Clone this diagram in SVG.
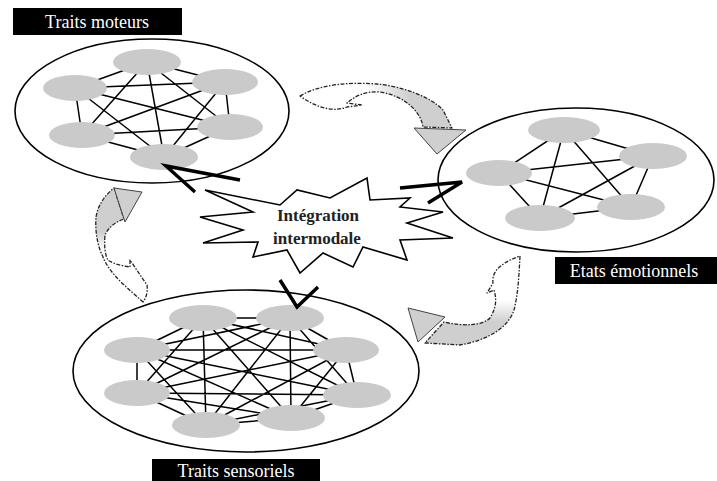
<svg xmlns="http://www.w3.org/2000/svg" width="717" height="481" viewBox="0 0 717 481">
<style>
.big{fill:#fff;stroke:#000;stroke-width:1.6}
.nd{fill:#cacaca;stroke:none}
.ed{fill:none;stroke:#000;stroke-width:1.5}
.lab{fill:#000}
.labt{fill:#fff;font-family:"Liberation Serif","DejaVu Serif",serif;font-size:18px;text-anchor:middle}
.burst{fill:#fff;stroke:#000;stroke-width:1.6;stroke-linejoin:miter}
.bt{fill:#222;font-family:"Liberation Serif","DejaVu Serif",serif;font-size:17px;font-weight:bold;text-anchor:middle}
.vee{fill:none;stroke:#000;stroke-width:3.5;stroke-linejoin:miter}
.curl{stroke:#222;stroke-width:1.3;stroke-dasharray:4 1.5 1.5 1.5;stroke-linejoin:round}
.head{fill:#cfcfcf;stroke:#444;stroke-width:1}
</style>
<defs>
<linearGradient id="g1" gradientUnits="userSpaceOnUse" x1="365" y1="0" x2="410" y2="0"><stop offset="0" stop-color="#fff"/><stop offset="1" stop-color="#cfcfcf"/></linearGradient>
<linearGradient id="g2" gradientUnits="userSpaceOnUse" x1="0" y1="300" x2="0" y2="322"><stop offset="0" stop-color="#fff"/><stop offset="1" stop-color="#cfcfcf"/></linearGradient>
<linearGradient id="g3" gradientUnits="userSpaceOnUse" x1="0" y1="250" x2="0" y2="232"><stop offset="0" stop-color="#fff"/><stop offset="1" stop-color="#cfcfcf"/></linearGradient>
</defs>
<rect width="717" height="481" fill="#fff"/>

<g id="traits-moteurs">
<ellipse class="big" cx="152" cy="111" rx="137" ry="72"/>
<path class="ed" d="M147,62L75,88 M147,62L225,82 M147,62L82,135 M147,62L230,127 M147,62L164,157 M75,88L225,82 M75,88L82,135 M75,88L230,127 M75,88L164,157 M225,82L82,135 M225,82L230,127 M225,82L164,157 M82,135L230,127 M82,135L164,157 M230,127L164,157"/>
<ellipse class="nd" cx="147" cy="62" rx="34" ry="13"/>
<ellipse class="nd" cx="75" cy="88" rx="32" ry="13"/>
<ellipse class="nd" cx="225" cy="82" rx="33" ry="13"/>
<ellipse class="nd" cx="82" cy="135" rx="33" ry="13"/>
<ellipse class="nd" cx="230" cy="127" rx="33" ry="13"/>
<ellipse class="nd" cx="164" cy="157" rx="34" ry="13"/>
<rect class="lab" x="13" y="8" width="169" height="27"/>
<text class="labt" x="97" y="28">Traits moteurs</text>
</g>

<g id="etats-emotionnels">
<ellipse class="big" cx="576" cy="180" rx="138" ry="72"/>
<path class="ed" d="M564,130L653,156 M564,130L499,173 M564,130L540,218 M564,130L631,207 M653,156L499,173 M653,156L540,218 M653,156L631,207 M499,173L540,218 M499,173L631,207 M540,218L631,207"/>
<ellipse class="nd" cx="564" cy="130" rx="36" ry="13"/>
<ellipse class="nd" cx="653" cy="156" rx="34" ry="13"/>
<ellipse class="nd" cx="499" cy="173" rx="33" ry="13"/>
<ellipse class="nd" cx="540" cy="218" rx="35" ry="13"/>
<ellipse class="nd" cx="631" cy="207" rx="34" ry="13"/>
<rect class="lab" x="555" y="257" width="162" height="27"/>
<text class="labt" x="634" y="277" font-size="19">Etats émotionnels</text>
</g>

<g id="traits-sensoriels">
<ellipse class="big" cx="246" cy="371" rx="173" ry="81"/>
<path class="ed" d="M203,318L290,318 M203,318L137,350 M203,318L346,350 M203,318L137,393 M203,318L357,395 M203,318L206,425 M203,318L291,418 M290,318L137,350 M290,318L346,350 M290,318L137,393 M290,318L357,395 M290,318L206,425 M290,318L291,418 M137,350L346,350 M137,350L137,393 M137,350L357,395 M137,350L206,425 M137,350L291,418 M346,350L137,393 M346,350L357,395 M346,350L206,425 M346,350L291,418 M137,393L357,395 M137,393L206,425 M137,393L291,418 M357,395L206,425 M357,395L291,418 M206,425L291,418"/>
<ellipse class="nd" cx="203" cy="318" rx="34" ry="13"/>
<ellipse class="nd" cx="290" cy="318" rx="34" ry="13"/>
<ellipse class="nd" cx="137" cy="350" rx="33" ry="13"/>
<ellipse class="nd" cx="346" cy="350" rx="33" ry="13"/>
<ellipse class="nd" cx="137" cy="393" rx="33" ry="13"/>
<ellipse class="nd" cx="357" cy="395" rx="34" ry="13"/>
<ellipse class="nd" cx="206" cy="425" rx="34" ry="13"/>
<ellipse class="nd" cx="291" cy="418" rx="34" ry="13"/>
<rect class="lab" x="152" y="459" width="168" height="22"/>
<text class="labt" x="236" y="477">Traits sensoriels</text>
</g>

<g id="integration">
<polygon class="burst" points="200,217 243,230 203,243 258,242 253,257 287,250 300,273 323,253 353,267 363,247 407,260 400,240 453,238 407,223 443,212 400,207 410,198 370,200 367,178 330,198 297,190 280,205 205,190 253,212"/>
<text class="bt" x="318" y="221">Intégration</text>
<text class="bt" x="317" y="244">intermodale</text>
</g>

<g id="connectors">
<polyline class="vee" points="240,180 166,166 195,192"/>
<polyline class="vee" points="400,188 462,182 428,203"/>
<polyline class="vee" points="280,280 297,307 318,287"/>
<path class="curl" fill="url(#g1)" d="M300,96 C320,84 350,82 377,84 C400,86 430,96 443,110 L452,128 L423,127 C421,112 405,96 380,92 C365,91 355,96 347,103 L362,105 L347,107 C335,112 318,109 300,96 Z"/>
<polygon class="head" points="414,128 466,130 437,154"/>
<path class="curl" fill="url(#g2)" d="M520,256 C519,275 518,295 514,310 C508,328 488,340 460,345 L425,343 L444,322 C465,327 483,325 490,318 C496,308 497,300 494,290 L487,293 L493,283 C492,275 495,265 520,256 Z"/>
<polygon class="head" points="408,308 445,317 418,342"/>
<path class="curl" fill="url(#g3)" d="M143,302 C130,290 110,275 103,257 C97,245 95,230 96,217 C98,205 105,195 114,188 L124,219 C115,222 108,228 105,235 C104,245 105,255 108,260 C115,265 125,266 130,267 L130,260 L147,285 C148,292 146,298 143,302 Z"/>
<polygon class="head" points="114,188 142,192 125,222"/>
</g>
</svg>
